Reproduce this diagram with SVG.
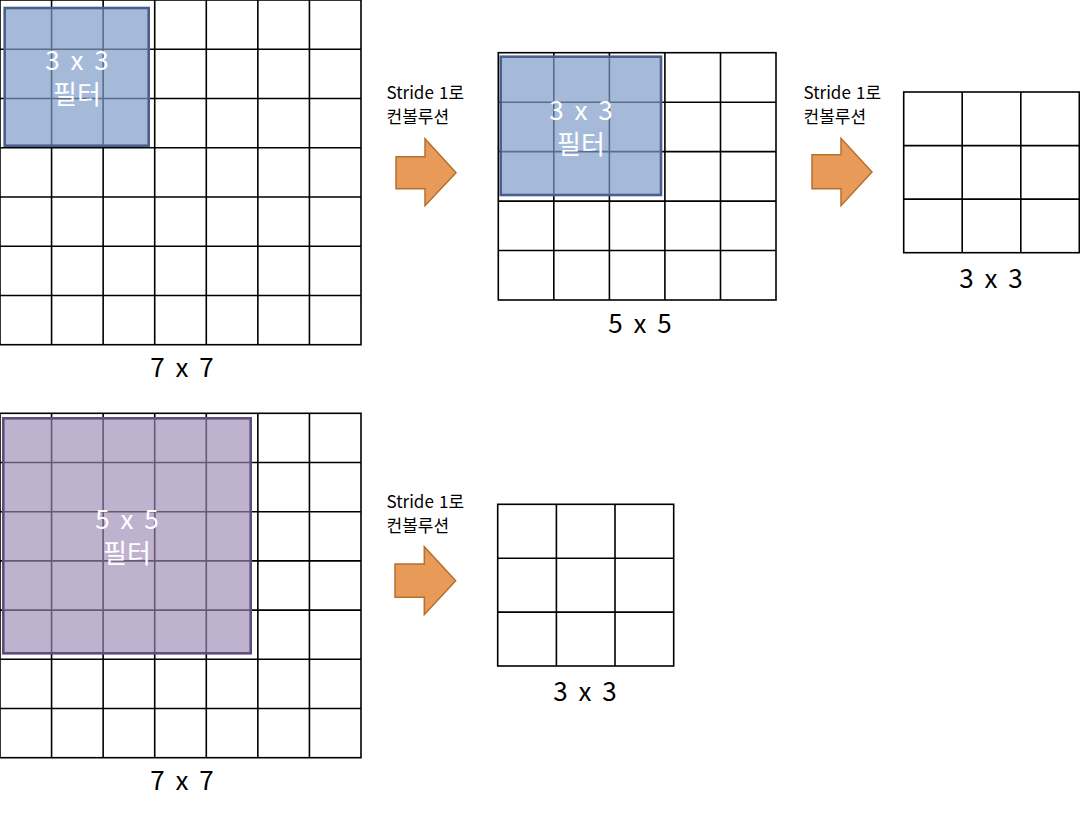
<svg xmlns="http://www.w3.org/2000/svg" width="1080" height="814" viewBox="0 0 1080 814">
<style>
.grid{fill:none;stroke:#000;stroke-width:1.6}
.bf{fill:#7F9CC9;fill-opacity:0.7;stroke:#4A5F8C;stroke-width:2.6}
.pf{fill:#9C89B5;fill-opacity:0.65;stroke:#5E4E7C;stroke-width:2.6}
.arr{fill:#E89A58;stroke:#B5702F;stroke-width:1.5}
.ft{font-family:"Noto Sans CJK KR","Noto Sans",sans-serif;fill:#fff;font-size:26px;text-anchor:middle;word-spacing:5px}
.lbl{font-family:"Noto Sans CJK KR","Noto Sans",sans-serif;fill:#000;font-size:26px;text-anchor:middle;word-spacing:5px}
.st{font-family:"Noto Sans CJK KR","Noto Sans",sans-serif;fill:#000;font-size:17px;word-spacing:1.5px}
</style>
<rect width="1080" height="814" fill="#fff"/>
<g id="grid-7x7-top">
<rect class="grid" x="0" y="0" width="361" height="344.7"/>
<path class="grid" d="M51.57 0V344.7M103.14 0V344.7M154.71 0V344.7M206.29 0V344.7M257.86 0V344.7M309.43 0V344.7M0 49.24H361M0 98.49H361M0 147.73H361M0 196.97H361M0 246.21H361M0 295.46H361"/>
<text class="lbl" x="182" y="377">7 x 7</text>
</g>
<g id="filter-3x3-top">
<rect class="bf" x="4.7" y="8" width="144" height="137.7"/>
<text class="ft" x="77" y="70">3 x 3</text>
<text class="ft" x="77" y="104">필터</text>
</g>
<g id="grid-5x5">
<rect class="grid" x="498.3" y="52.7" width="277.7" height="247.3"/>
<path class="grid" d="M553.8 52.7V300M609.4 52.7V300M664.9 52.7V300M720.5 52.7V300M498.3 102.2H776M498.3 151.6H776M498.3 201.1H776M498.3 250.5H776"/>
<text class="lbl" x="640" y="333">5 x 5</text>
</g>
<g id="filter-3x3-mid">
<rect class="bf" x="500.7" y="56.7" width="160.3" height="138.3"/>
<text class="ft" x="581" y="120">3 x 3</text>
<text class="ft" x="581" y="154">필터</text>
</g>
<g id="grid-3x3-top">
<rect class="grid" x="903.7" y="92" width="175.6" height="160.7"/>
<path class="grid" d="M962.2 92V252.7M1020.8 92V252.7M903.7 145.6H1079.3M903.7 199.1H1079.3"/>
<text class="lbl" x="991" y="288">3 x 3</text>
</g>
<g id="grid-7x7-bottom">
<rect class="grid" x="0" y="413.3" width="361" height="344.4"/>
<path class="grid" d="M51.57 413.3V757.7M103.14 413.3V757.7M154.71 413.3V757.7M206.29 413.3V757.7M257.86 413.3V757.7M309.43 413.3V757.7M0 462.5H361M0 511.7H361M0 560.9H361M0 610.1H361M0 659.3H361M0 708.5H361"/>
<text class="lbl" x="182" y="790">7 x 7</text>
</g>
<g id="filter-5x5">
<rect class="pf" x="3.3" y="418.3" width="247.4" height="235"/>
<text class="ft" x="127" y="529">5 x 5</text>
<text class="ft" x="127" y="563">필터</text>
</g>
<g id="grid-3x3-bottom">
<rect class="grid" x="497.7" y="504.3" width="176" height="161.7"/>
<path class="grid" d="M556.4 504.3V666M615 504.3V666M497.7 558.2H673.7M497.7 612.1H673.7"/>
<text class="lbl" x="585" y="701">3 x 3</text>
</g>
<g id="connectors">
<polygon class="arr" points="396,156.7 425,156.7 425,138.7 456,172.7 425,205.7 425,188.7 396,188.7"/>
<text class="st" x="386.5" y="99">Stride 1로</text>
<text class="st" x="386.5" y="122.5">컨볼루션</text>
<polygon class="arr" points="812,154.7 841,154.7 841,138.3 872,172 841,205.7 841,188.7 812,188.7"/>
<text class="st" x="803.5" y="98.5">Stride 1로</text>
<text class="st" x="803.5" y="122.5">컨볼루션</text>
<polygon class="arr" points="395,564 424.3,564 424.3,546.7 455.7,580.7 424.3,614.7 424.3,597.3 395,597.3"/>
<text class="st" x="386.5" y="507.5">Stride 1로</text>
<text class="st" x="386.5" y="531.5">컨볼루션</text>
</g>
</svg>
